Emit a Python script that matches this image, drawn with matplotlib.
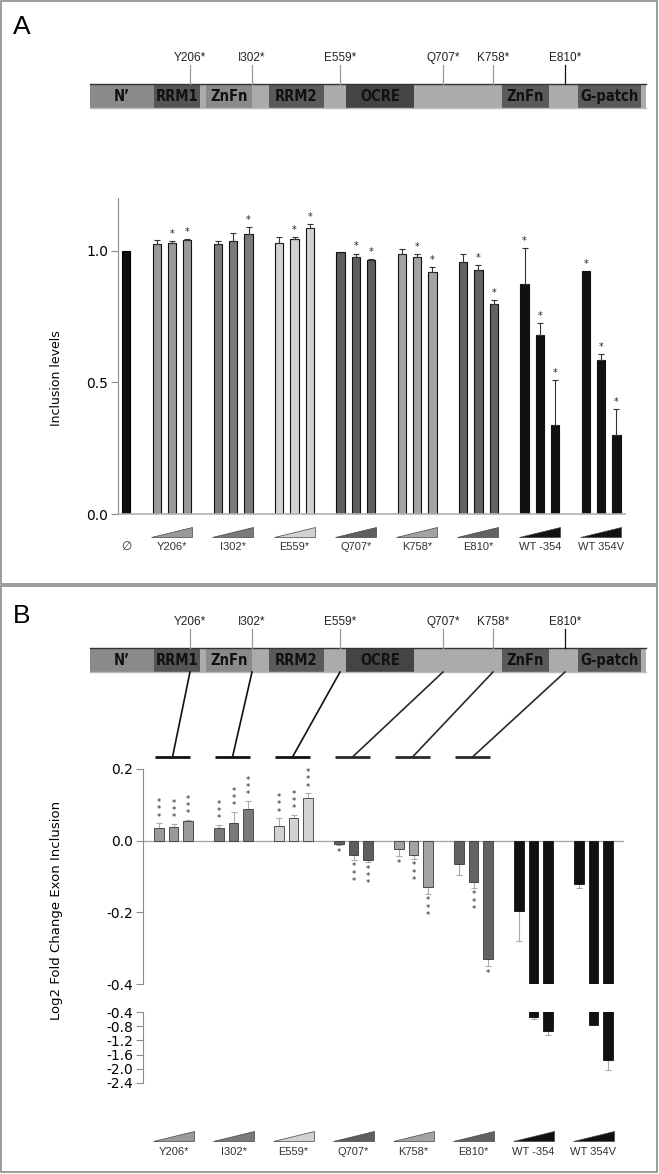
import matplotlib
matplotlib.use("Agg")
import matplotlib.pyplot as plt
from matplotlib.patches import Rectangle, Polygon
from matplotlib.transforms import blended_transform_factory
from matplotlib import font_manager

plt.rcParams['font.family'] = ['DejaVu Sans']
plt.rcParams['axes.unicode_minus'] = False

W, H = 659, 1174

# ---- data -------------------------------------------------------------
groups = ["Y206*", "I302*", "E559*", "Q707*", "K758*", "E810*", "WT -354", "WT 354V"]
group_colors = ["#9a9a9a", "#7a7a7a", "#d2d2d2", "#5e5e5e", "#a3a3a3", "#626262", "#111111", "#111111"]

# panel A: inclusion levels (3 increasing doses per construct)
ctrl_label = "\u2205"
ctrl_a = 1.0
incl_a = [[1.025, 1.030, 1.040], [1.025, 1.037, 1.065], [1.030, 1.045, 1.086],
          [0.996, 0.975, 0.965], [0.987, 0.975, 0.918], [0.957, 0.928, 0.797],
          [0.875, 0.678, 0.338], [0.921, 0.586, 0.299]]
err_a = [[0.015, 0.005, 0.003], [0.010, 0.031, 0.024], [0.021, 0.008, 0.014],
         [0.000, 0.014, 0.002], [0.018, 0.012, 0.020], [0.032, 0.016, 0.015],
         [0.136, 0.048, 0.172], [0.000, 0.021, 0.099]]
stars_a = [["", "*", "*"], ["", "", "*"], ["", "*", "*"], ["", "*", "*"],
           ["", "*", "*"], ["", "*", "*"], ["*", "*", "*"], ["*", "*", "*"]]

# panel B: log2 fold change of exon inclusion
logfc_b = [[0.034, 0.039, 0.054], [0.034, 0.050, 0.087], [0.041, 0.063, 0.119],
           [-0.009, -0.041, -0.055], [-0.023, -0.039, -0.128], [-0.065, -0.114, -0.330],
           [-0.196, -0.540, -0.940], [-0.120, -0.770, -1.750]]
err_b = [[0.015, 0.008, 0.004], [0.011, 0.031, 0.025], [0.022, 0.009, 0.014],
         [0.003, 0.012, 0.005], [0.020, 0.011, 0.020], [0.032, 0.017, 0.020],
         [0.084, 0.060, 0.110], [0.012, 0.000, 0.280]]
stars_b = [["***", "***", "***"], ["***", "***", "***"], ["***", "***", "***"],
           ["*", "***", "***"], ["*", "***", "***"], ["", "***", "*"],
           ["", "", ""], ["", "", ""]]

yticks_a = [0.0, 0.5, 1.0]
ytick_labels_a = ["0.0", "0.5", "1.0"]
yticks_b_top = [0.2, 0.0, -0.2, -0.4]
ytick_labels_b_top = ["0.2", "0.0", "-0.2", "-0.4"]
yticks_b_low = [-0.4, -0.8, -1.2, -1.6, -2.0, -2.4]
ytick_labels_b_low = ["-0.4", "-0.8", "-1.2", "-1.6", "-2.0", "-2.4"]

# protein schematic (schematic units along the bar)
domain_names = ["N\u2019", "RRM1", "", "ZnFn", "", "RRM2", "", "OCRE", "", "ZnFn", "", "G-patch", ""]
domain_edges = [89.5, 154, 200, 206, 252, 269, 324, 346, 414, 502, 549, 578, 641, 646]
domain_colors = ["#8a8a8a", "#555555", "#ababab", "#8a8a8a", "#ababab", "#5a5a5a", "#ababab",
                 "#444444", "#ababab", "#5a5a5a", "#ababab", "#5a5a5a", "#ababab"]
mutations = ["Y206*", "I302*", "E559*", "Q707*", "K758*", "E810*"]
mutation_pos = [190, 252, 340, 443, 493, 565]

# ---- figure ---------------------------------------------------------
fig = plt.figure(figsize=(W / 100, H / 100), dpi=100)

# condensed bold font for the domain names, if there is one
fonts = font_manager.fontManager.ttflist
if any(f.name == 'Liberation Sans Narrow' for f in fonts):
    dom_kw = dict(family='Liberation Sans Narrow', fontsize=11.5)
elif any(f.name == 'DejaVu Sans' and f.stretch == 'condensed' and f.weight in ('bold', 700) for f in fonts):
    dom_kw = dict(family='DejaVu Sans', fontstretch='condensed', fontsize=10.5)
else:
    dom_kw = dict(family='Liberation Sans', fontsize=10.5)


def ax_px(x0, y0, x1, y1):
    return fig.add_axes([x0 / W, 1 - y1 / H, (x1 - x0) / W, (y1 - y0) / H])


ov = ax_px(0, 0, W, H)
ov.set_xlim(0, W); ov.set_ylim(H, 0); ov.axis('off')

# panel frames
ov.add_patch(Rectangle((1, 1), 656, 583, fill=False, ec="#8c8c8c", lw=1.2))
ov.add_patch(Rectangle((1, 586), 656, 586, fill=False, ec="#8c8c8c", lw=1.2))
ov.text(13, 27, "A", fontsize=19, family='Liberation Sans', va='center', ha='left')
ov.text(13, 616, "B", fontsize=19, family='Liberation Sans', va='center', ha='left')


def draw_protein(y_bar, y_lab):
    for k, name in enumerate(domain_names):
        x0, x1 = domain_edges[k], domain_edges[k + 1]
        ov.add_patch(Rectangle((x0, y_bar), x1 - x0, 24, fc=domain_colors[k], ec='none'))
        if name:
            ov.text((x0 + x1) / 2, y_bar + 12.5, name, ha='center', va='center',
                    fontweight='bold', color="#111111", **dom_kw)
    ov.plot([domain_edges[0], domain_edges[-1]], [y_bar, y_bar], color="#333333", lw=1)
    ov.plot([domain_edges[0], domain_edges[-1]], [y_bar + 24, y_bar + 24], color="#bbbbbb", lw=1)
    for k, (m, xp) in enumerate(zip(mutations, mutation_pos)):
        c = "#111111" if k == len(mutations) - 1 else "#999999"
        ov.plot([xp, xp], [y_lab + 7, y_bar], color=c, lw=0.9)
        ov.text(xp, y_lab, m, ha='center', va='center', fontsize=8.5,
                family='Liberation Sans', color="#222222")


draw_protein(84, 58)
draw_protein(648, 622)

# ---- panel A chart --------------------------------------------------
a_x0, a_dx = 172.0, 61.3
axA = ax_px(118, 198, 625, 514)
axA.set_facecolor('none')
axA.set_xlim((118 - a_x0) / a_dx, (625 - a_x0) / a_dx)
axA.set_ylim(0, 1.2)
offA, wA = 15.3 / a_dx, 8.3 / a_dx
ctrl_x = (126 - a_x0) / a_dx
axA.bar(ctrl_x, ctrl_a, width=wA, color="#0d0d0d", edgecolor="#000000", lw=0.8)
for i in range(len(groups)):
    for j in range(3):
        x = i + offA * (j - 1)
        v, e = incl_a[i][j], err_a[i][j]
        axA.bar(x, v, width=wA, color=group_colors[i], edgecolor="#111111", lw=0.8, zorder=2)
        if e > 0:
            axA.errorbar(x, v, yerr=[[0], [e]], color="#333333", lw=0.8, capsize=2.2, capthick=0.8, zorder=3)
        if stars_a[i][j]:
            axA.annotate(stars_a[i][j], (x, v + e), xytext=(0, 1.5), textcoords='offset points',
                         ha='center', va='bottom', fontsize=7, color="#222222")
for s in ['top', 'right']:
    axA.spines[s].set_visible(False)
axA.spines['left'].set_color("#8c8c8c")
axA.spines['bottom'].set_color("#b0b0b0")
axA.spines['bottom'].set_linewidth(1.2)
axA.set_xticks([])
axA.set_yticks(yticks_a)
axA.set_yticklabels(ytick_labels_a, fontsize=10)
axA.tick_params(axis='y', length=5, color="#8c8c8c", pad=2)
fig.text(57 / W, 1 - 378 / H, "Inclusion levels", rotation=90, ha='center', va='center', fontsize=9)


def draw_wedges(ax, dx, y_top, y_bot, y_lab, ctrl=False):
    tr = blended_transform_factory(ax.transData, fig.transFigure)
    fy = lambda p: 1 - p / H
    for i, g in enumerate(groups):
        xl, xr = i - 21 / dx, i + 20 / dx
        ax.add_patch(Polygon([(xl, fy(y_bot)), (xr, fy(y_bot)), (xr, fy(y_top))], closed=True,
                             transform=tr, fc=group_colors[i], ec="#444444", lw=0.5, clip_on=False))
        ax.text(i, fy(y_lab), g, transform=tr, ha='center', va='center', fontsize=8,
                family='Liberation Sans', color="#333333", clip_on=False)
    if ctrl:
        ax.text(ctrl_x, fy(y_lab), ctrl_label, transform=tr, ha='center', va='center', fontsize=8.5,
                color="#333333", clip_on=False)


draw_wedges(axA, a_dx, 527, 537, 547, ctrl=True)

# ---- panel B: connectors -------------------------------------------
b_x0, b_dx = 173.5, 60.0
for k, xp in enumerate(mutation_pos):
    cx = b_x0 + b_dx * k - 1
    c = "#111111" if k < 3 else "#2a2a2a"
    ov.plot([xp, cx], [672, 757], color=c, lw=1.2)
    ov.plot([cx - 17.5, cx + 17.5], [757, 757], color=c, lw=2.0, solid_capstyle='butt')

# ---- panel B chart (broken axis) -----------------------------------
axB = ax_px(143, 769, 624, 984)
axL = ax_px(143, 1012, 624, 1083)
offB, wB = 14.5 / b_dx, 9.5 / b_dx
for ax, (lo, hi) in [(axB, (-0.4, 0.2)), (axL, (-2.4, -0.4))]:
    ax.set_facecolor('none')
    ax.set_xlim((143 - b_x0) / b_dx, (624 - b_x0) / b_dx)
    ax.set_ylim(lo, hi)
    for s in ['top', 'right', 'bottom']:
        ax.spines[s].set_visible(False)
    ax.spines['left'].set_color("#8c8c8c")
    ax.set_xticks([])
    ax.tick_params(axis='y', length=5, color="#8c8c8c", pad=2)
    for i in range(len(groups)):
        for j in range(3):
            x = i + offB * (j - 1)
            v, e = logfc_b[i][j], err_b[i][j]
            if ax is axL and v > -0.4:
                continue
            ec = "#111111" if i >= 6 else "#3a3a3a"
            ax.bar(x, v, width=wB, color=group_colors[i], edgecolor=ec, lw=0.6, zorder=2)
            if e > 0:
                yerr = [[0], [e]] if v > 0 else [[e], [0]]
                ax.errorbar(x, v, yerr=yerr, color="#aaaaaa", lw=0.8, capsize=2, capthick=0.8, zorder=1)
            if stars_b[i][j] and ax is axB:
                s = "\n".join(stars_b[i][j])
                if v > 0:
                    ax.annotate(s, (x, v + e), xytext=(0, 1), textcoords='offset points', ha='center',
                                va='bottom', fontsize=6, linespacing=0.75, color="#222222")
                else:
                    ax.annotate(s, (x, v - e), xytext=(0, -2), textcoords='offset points', ha='center',
                                va='top', fontsize=6, linespacing=0.75, color="#222222")
axB.axhline(0, color="#aaaaaa", lw=1, zorder=1)
axB.set_yticks(yticks_b_top)
axB.set_yticklabels(ytick_labels_b_top, fontsize=10)
axL.set_yticks(yticks_b_low)
axL.set_yticklabels(ytick_labels_b_low, fontsize=10)
fig.text(57 / W, 1 - 910 / H, "Log2 Fold Change Exon Inclusion", rotation=90,
         ha='center', va='center', fontsize=9.5)

draw_wedges(axL, b_dx, 1131, 1141, 1152)

fig.savefig("out.png", dpi=100)
